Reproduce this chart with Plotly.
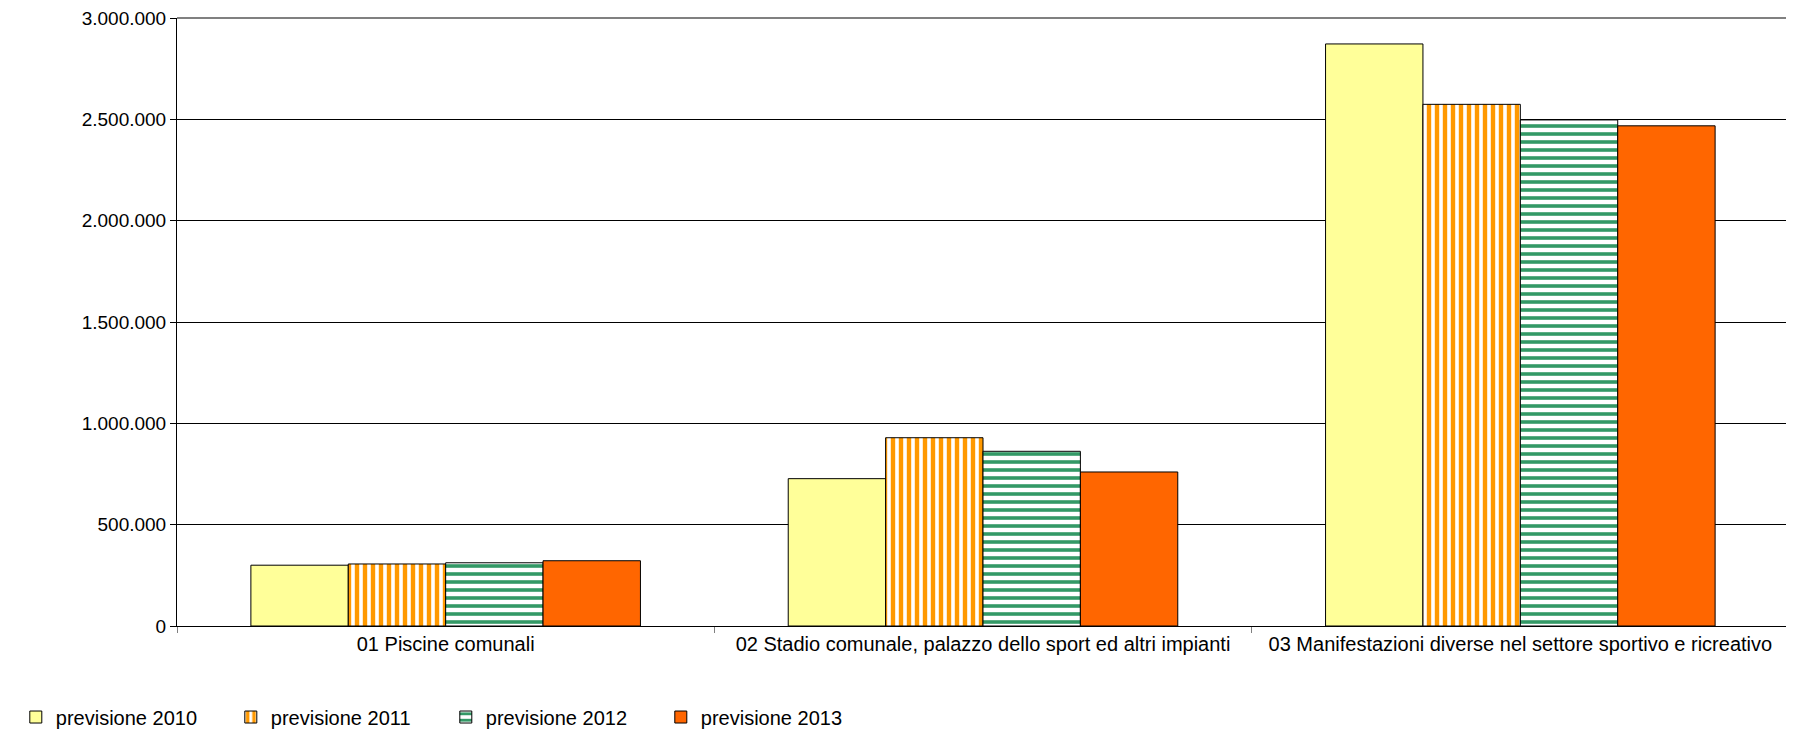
"""Spesa per lo sport: previsioni 2010-2013 per servizio."""

import plotly.graph_objects as go

categories = [
    "01 Piscine comunali",
    "02 Stadio comunale, palazzo dello sport ed altri impianti",
    "03 Manifestazioni diverse nel settore sportivo e ricreativo",
]

series_names = ["previsione 2010", "previsione 2011", "previsione 2012", "previsione 2013"]

prev_2010 = [300000, 727000, 2872000]
prev_2011 = [306000, 929000, 2574000]
prev_2012 = [312000, 862000, 2497000]
prev_2013 = [322000, 760000, 2468000]

y_ticks = [0, 500000, 1000000, 1500000, 2000000, 2500000, 3000000]

FONT = "Liberation Sans, Arial, sans-serif"

fig = go.Figure()

# 2010: solid pale yellow
fig.add_trace(
    go.Bar(
        x=categories,
        y=prev_2010,
        name=series_names[0],
        marker=dict(color="#FFFF99", line=dict(color="black", width=1)),
    )
)

# 2011: orange vertical stripes
fig.add_trace(
    go.Bar(
        x=categories,
        y=prev_2011,
        name=series_names[1],
        marker=dict(
            color="#FF9900",
            line=dict(color="black", width=1),
            pattern=dict(
                shape="|",
                fillmode="replace",
                fgcolor="#FF9900",
                bgcolor="white",
                size=8,
                solidity=0.55,
            ),
        ),
    )
)

# 2012: green horizontal stripes
fig.add_trace(
    go.Bar(
        x=categories,
        y=prev_2012,
        name=series_names[2],
        marker=dict(
            color="#339966",
            line=dict(color="black", width=1),
            pattern=dict(
                shape="-",
                fillmode="replace",
                fgcolor="#339966",
                bgcolor="white",
                size=8,
                solidity=0.45,
            ),
        ),
    )
)

# 2013: solid orange-red
fig.add_trace(
    go.Bar(
        x=categories,
        y=prev_2013,
        name=series_names[3],
        marker=dict(color="#FF6600", line=dict(color="black", width=1)),
    )
)

# grey plot-area border on the top and right sides
fig.add_shape(
    type="line", xref="paper", yref="paper", x0=1, x1=1, y0=0, y1=1,
    line=dict(color="#808080", width=2),
)
fig.add_shape(
    type="line", xref="paper", yref="paper", x0=0, x1=1, y0=1, y1=1,
    line=dict(color="#808080", width=2),
)

# page body has an 8px margin, so the figure is offset by 8px
fig.update_layout(
    width=1786,
    height=735,
    margin=dict(l=169, r=5, t=10, b=117),
    paper_bgcolor="white",
    plot_bgcolor="white",
    font=dict(family=FONT, size=19, color="black"),
    separators=",.",
    barmode="group",
    bargap=0.275,
    bargroupgap=0,
    showlegend=True,
    legend=dict(
        orientation="h",
        x=-0.1,
        xanchor="left",
        y=-0.1497,
        yanchor="middle",
        font=dict(family=FONT, size=20),
        entrywidth=170,
        entrywidthmode="pixels",
        itemwidth=30,
        traceorder="normal",
    ),
)

fig.update_xaxes(
    type="category",
    automargin=False,
    showline=True,
    linecolor="black",
    linewidth=1,
    ticks="outside",
    tickson="boundaries",
    ticklen=6,
    tickcolor="#808080",
    showgrid=False,
    tickfont=dict(family=FONT, size=20),
)

fig.update_yaxes(
    range=[0, 3000000],
    tickvals=y_ticks,
    tickformat=",d",
    automargin=False,
    ticklabeloverflow="allow",
    showline=True,
    linecolor="black",
    linewidth=1,
    ticks="outside",
    ticklen=6,
    tickcolor="black",
    showgrid=True,
    gridcolor="black",
    gridwidth=1,
    zeroline=False,
    tickfont=dict(family=FONT, size=19),
)

fig.write_html("out.html")
